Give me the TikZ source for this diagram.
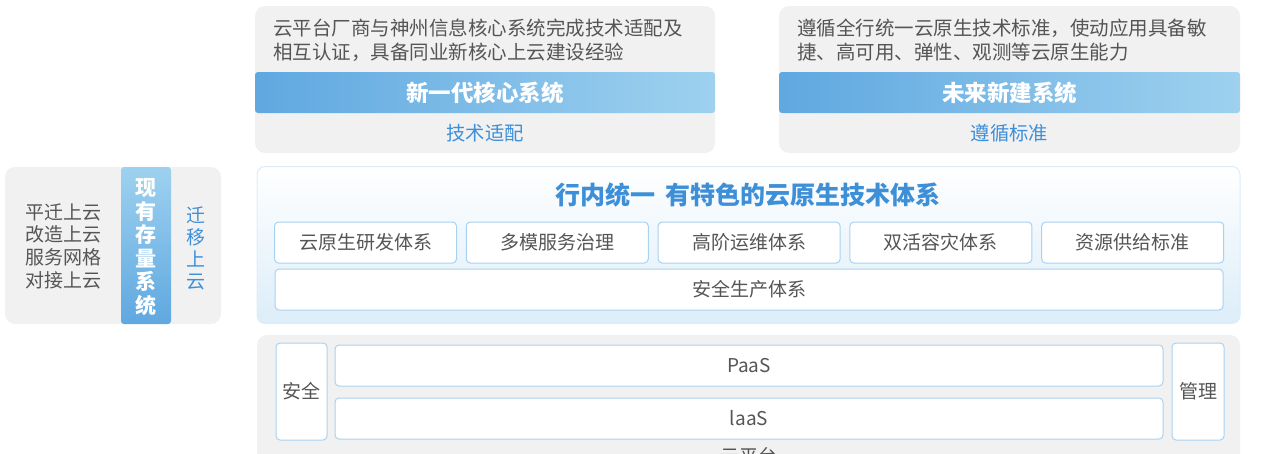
\documentclass[tikz,border=0pt]{standalone}
\usepackage{fontspec}
\setmainfont{Noto Sans CJK SC}
\usetikzlibrary{positioning}

\definecolor{panelgrey}{HTML}{F1F1F1}
\definecolor{textgrey}{HTML}{555555}
\definecolor{tagblue}{HTML}{3D8FD8}
\definecolor{bardark}{HTML}{5FA8E0}
\definecolor{barlight}{HTML}{9ED1EF}
\definecolor{boxline}{HTML}{A8D2F2}
\definecolor{mistblue}{HTML}{DCEDF9}

\begin{document}
\begin{tikzpicture}[
  x=1pt, y=-1pt,
  node distance=10pt and 8.8pt,
  panel/.style={rectangle, rounded corners=10pt, fill=panelgrey, inner sep=0pt},
  hbar/.style={rectangle, rounded corners=3pt, left color=bardark, right color=barlight,
    inner sep=0pt, text=white, font=\fontsize{22.5}{26}\selectfont\bfseries},
  desc/.style={align=left, text=textgrey, inner sep=0pt, font=\fontsize{19.5}{24}\selectfont},
  tag/.style={text=tagblue, inner sep=0pt, font=\fontsize{19.3}{22}\selectfont},
  cell/.style={rectangle, rounded corners=4pt, draw=boxline, fill=white, line width=1pt,
    inner sep=0pt, text=textgrey, font=\fontsize{19}{22}\selectfont},
  item/.style={cell, minimum width=182pt, minimum height=41pt}
]
  \useasboundingbox (0,0) rectangle (1280,453);

  % Existing systems
  \node[panel, minimum width=216pt, minimum height=157pt] (oldPanel) at (113,245.5) {};
  \node[rectangle, rounded corners=3pt, top color=barlight, bottom color=bardark,
    minimum width=50pt, minimum height=157pt, inner sep=0pt] (oldBar) at (146,245.5) {};
  \node[text=white, align=center, inner sep=0pt,
    font=\fontsize{21}{23.5}\selectfont\bfseries] (oldTitle) at (146,247)
    {现\\有\\存\\量\\系\\统};
  \node[align=center, text=textgrey, inner sep=0pt,
    font=\fontsize{19}{22.7}\selectfont] (oldWays) at (63,246)
    {平迁上云\\改造上云\\服务网格\\对接上云};
  \node[align=center, text=tagblue, inner sep=0pt,
    font=\fontsize{19}{22}\selectfont] (oldTag) at (196,248) {迁\\移\\上\\云};

  % New core systems
  \node[panel, minimum width=460pt, minimum height=147pt] (corePanel) at (485,79.5) {};
  \node[desc, anchor=west] (coreDesc) at (273,40)
    {云平台厂商与神州信息核心系统完成技术适配及\\相互认证，具备同业新核心上云建设经验};
  \node[hbar, minimum width=460pt, minimum height=41pt] (coreBar) at (485,92.5) {新一代核心系统};
  \node[tag] (coreTag) at (485,133) {技术适配};

  % Future systems
  \node[panel, minimum width=461pt, minimum height=147pt] (newPanel) at (1009.5,79.5) {};
  \node[desc, anchor=west] (newDesc) at (797,40)
    {遵循全行统一云原生技术标准，使动应用具备敏\\捷、高可用、弹性、观测等云原生能力};
  \node[hbar, minimum width=461pt, minimum height=41pt] (newBar) at (1009.5,92.5) {未来新建系统};
  \node[tag] (newTag) at (1009.5,133) {遵循标准};

  % Cloud native system
  \node[rectangle, rounded corners=8pt, draw=mistblue, line width=1pt,
    top color=white, bottom color=mistblue, inner sep=0pt,
    minimum width=983pt, minimum height=157pt] (nativePanel) at (748.5,245) {};
  \node[text=tagblue, inner sep=0pt, font=\fontsize{25}{28}\selectfont\bfseries]
    (nativeTitle) at (748,195) {行内统一\hspace{10pt}有特色的云原生技术体系};
  \node[item] (devOps) at (365.5,242.5) {云原生研发体系};
  \node[item, right=of devOps] (svcGov) {多模服务治理};
  \node[item, right=of svcGov] (opsSys) {高阶运维体系};
  \node[item, right=of opsSys] (drSys) {双活容灾体系};
  \node[item, right=of drSys] (resStd) {资源供给标准};
  \node[cell, minimum width=948pt, minimum height=41pt] (safeProd) at (749,289.5) {安全生产体系};

  % Cloud platform
  \node[panel, minimum width=983pt, minimum height=140pt] (cloudPanel) at (748.5,405) {};
  \node[cell, minimum width=51pt, minimum height=97pt] (secCol) at (301.5,391.5) {安全};
  \node[cell, minimum width=828pt, minimum height=41pt] (paas) at (749,365.5) {PaaS};
  \node[cell, minimum width=828pt, minimum height=41pt] (iaas) at (749,418.5) {laaS};
  \node[cell, minimum width=52pt, minimum height=97pt] (mgmtCol) at (1198,391.5) {管理};
  \node[text=textgrey, inner sep=0pt, font=\fontsize{19}{22}\selectfont]
    (cloudTitle) at (749,456) {云平台};
\end{tikzpicture}
\end{document}
